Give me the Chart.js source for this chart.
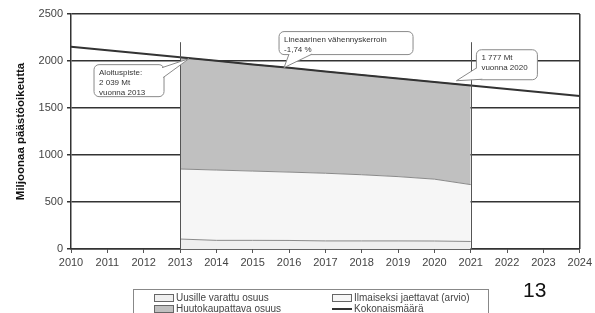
<!DOCTYPE html>
<html>
<head>
<meta charset="utf-8">
<script src="https://cdn.jsdelivr.net/npm/chart.js@4"></script>
<style>
  body { margin: 0; background: #fff; font-family: "Liberation Sans", Arial, sans-serif; }
  #wrap { position: relative; width: 595px; height: 313px; overflow: hidden; }
  #legend { position: absolute; left: 133px; top: 289px; width: 356px; height: 40px;
            border: 1px solid #888; box-sizing: border-box; font-size: 10px; color: #444; }
  .item { position: absolute; display: flex; align-items: center; white-space: nowrap; }
  .sw { width: 18px; height: 6px; border: 1px solid #666; margin-right: 2px; }
  .ln { width: 20px; height: 2px; background: #333; margin-right: 2px; }
  #page { position: absolute; left: 523px; top: 278px; font-size: 21px; color: #111; }
</style>
</head>
<body>
<div id="wrap">
  <canvas id="chart"></canvas>
  <div id="legend"></div>
  <div id="page">13</div>
</div>
<script>
// years on the x axis
const years = ['2010', '2011', '2012', '2013', '2014', '2015', '2016', '2017',
               '2018', '2019', '2020', '2021', '2022', '2023', '2024'];
// total cap line (Mt)
const totalCap = [2151, 2114, 2076, 2039, 2002, 1964, 1927, 1889, 1852, 1814, 1777, 1740, 1702, 1665, 1627];
// trading period 2013-2021 shares (Mt)
const periodStart = 3; // index of 2013
const newEntrants = [106, 92, 92, 91, 86, 86, 86, 85, 80];
const freeAllocation = [745, 748, 737, 727, 720, 704, 684, 658, 605];
const auctioned = [1188, 1162, 1135, 1109, 1083, 1062, 1044, 1034, 1055];

const labels = {
  newEntrants: 'Uusille varattu osuus',
  free: 'Ilmaiseksi jaettavat (arvio)',
  auction: 'Huutokaupattava osuus',
  total: 'Kokonaismäärä'
};

// pad a period series to the full year axis, stacking on top of a base
function place(vals, base) {
  const out = years.map(() => null);
  vals.forEach((v, i) => { out[periodStart + i] = v + (base ? base[periodStart + i] : 0); });
  return out;
}
const s1 = place(newEntrants);
const s2 = place(freeAllocation, s1);
const s3 = place(auctioned, s2);

const FONT = '"Liberation Sans", Arial, sans-serif';

const decorations = {
  id: 'decorations',
  afterDatasetsDraw(chart) {
    const { ctx, chartArea: a, scales: { x, y } } = chart;
    ctx.save();
    // period edges
    ctx.strokeStyle = '#555';
    ctx.lineWidth = 1;
    [periodStart, periodStart + newEntrants.length - 1].forEach(i => {
      const px = Math.round(x.getPixelForValue(i)) + 0.5;
      ctx.beginPath();
      ctx.moveTo(px, y.getPixelForValue(2200));
      ctx.lineTo(px, y.getPixelForValue(0));
      ctx.stroke();
    });
    // right frame
    ctx.strokeStyle = '#333';
    ctx.lineWidth = 1.5;
    ctx.beginPath();
    ctx.moveTo(a.right, a.top);
    ctx.lineTo(a.right, a.bottom);
    ctx.stroke();

    // callouts
    function callout(box, base, tip, lines) {
      ctx.fillStyle = '#fff';
      ctx.strokeStyle = '#8a8a8a';
      ctx.lineWidth = 1;
      ctx.beginPath();
      ctx.roundRect(box.x, box.y, box.w, box.h, 5);
      ctx.fill();
      ctx.stroke();
      ctx.beginPath();
      ctx.moveTo(base[0][0], base[0][1]);
      ctx.lineTo(tip[0], tip[1]);
      ctx.lineTo(base[1][0], base[1][1]);
      ctx.closePath();
      ctx.fill();
      ctx.beginPath();
      ctx.moveTo(base[0][0], base[0][1]);
      ctx.lineTo(tip[0], tip[1]);
      ctx.lineTo(base[1][0], base[1][1]);
      ctx.stroke();
      ctx.fillStyle = '#333';
      ctx.font = '8px ' + FONT;
      ctx.textBaseline = 'middle';
      lines.forEach((t, i) => ctx.fillText(t, box.x + 5, box.y + 8 + i * 10));
    }
    const t1 = [x.getPixelForValue(3) + 9, y.getPixelForValue(2025)];
    callout({ x: t1[0] - 95, y: t1[1] + 6, w: 70, h: 32 },
            [[t1[0] - 27, t1[1] + 9], [t1[0] - 26, t1[1] + 19]], t1,
            ['Aloituspiste:', '2 039 Mt', 'vuonna 2013']);
    const t2 = [x.getPixelForValue(6) - 5, y.getPixelForValue(1930)];
    callout({ x: t2[0] - 5, y: t2[1] - 36, w: 134, h: 23 },
            [[t2[0] + 5, t2[1] - 13.5], [t2[0] + 28, t2[1] - 13.5]], t2,
            ['Lineaarinen vähennyskerroin', '-1,74 %']);
    const t3 = [x.getPixelForValue(10) + 22, y.getPixelForValue(1790)];
    callout({ x: t3[0] + 20, y: t3[1] - 31, w: 61, h: 30 },
            [[t3[0] + 20.5, t3[1] - 13], [t3[0] + 26, t3[1] - 1.5]], t3,
            ['1 777 Mt', 'vuonna 2020']);
    ctx.restore();
  }
};

new Chart(document.getElementById('chart'), {
  type: 'line',
  data: {
    labels: years,
    datasets: [
      { label: labels.newEntrants, data: s1, fill: 'origin', backgroundColor: '#efefef',
        borderColor: '#8a8a8a', borderWidth: 1, order: 1 },
      { label: labels.free, data: s2, fill: '-1', backgroundColor: '#f6f6f6',
        borderColor: '#8a8a8a', borderWidth: 1, order: 1 },
      { label: labels.auction, data: s3, fill: '-1', backgroundColor: '#c0c0c0',
        borderColor: '#666', borderWidth: 1, order: 1 },
      { label: labels.total, data: totalCap, fill: false, borderColor: '#333',
        borderWidth: 2, order: 0 }
    ]
  },
  options: {
    responsive: true,
    maintainAspectRatio: false,
    animation: false,
    elements: { point: { radius: 0 }, line: { tension: 0 } },
    layout: { padding: { left: 0, top: 14, right: 14, bottom: 0 } },
    plugins: { legend: { display: false }, tooltip: { enabled: false } },
    scales: {
      x: {
        offset: false,
        afterFit(s) { s.height = 64; },
        grid: { drawOnChartArea: false, drawTicks: true, tickLength: 4, color: '#555' },
        border: { color: '#333', width: 1.5 },
        ticks: { color: '#444', font: { size: 11, family: FONT }, padding: 3, maxRotation: 0 }
      },
      y: {
        min: 0, max: 2500,
        afterFit(s) { s.width = 71; },
        grid: { color: '#333', lineWidth: 1.5, drawTicks: true, tickLength: 4 },
        border: { color: '#333', width: 1.5 },
        ticks: { stepSize: 500, color: '#444', font: { size: 11, family: FONT }, padding: 4,
                 callback: v => String(v) },
        title: { display: true, text: 'Miljoonaa päästöoikeutta', color: '#111',
                 font: { size: 11.5, weight: 'bold', family: FONT }, padding: { top: 14, bottom: 0 } }
      }
    }
  },
  plugins: [decorations]
});

// legend laid out like the original: two columns, two rows
const legendItems = [
  { text: labels.newEntrants, fill: '#efefef', left: 20, top: 2 },
  { text: labels.free, fill: '#f6f6f6', left: 198, top: 2 },
  { text: labels.auction, fill: '#c0c0c0', left: 20, top: 13 },
  { text: labels.total, line: true, left: 198, top: 13 }
];
const lg = document.getElementById('legend');
legendItems.forEach(it => {
  const d = document.createElement('div');
  d.className = 'item';
  d.style.left = it.left + 'px';
  d.style.top = it.top + 'px';
  const sw = document.createElement('span');
  if (it.line) { sw.className = 'ln'; } else { sw.className = 'sw'; sw.style.background = it.fill; }
  d.appendChild(sw);
  d.appendChild(document.createTextNode(it.text));
  lg.appendChild(d);
});
</script>
</body>
</html>
